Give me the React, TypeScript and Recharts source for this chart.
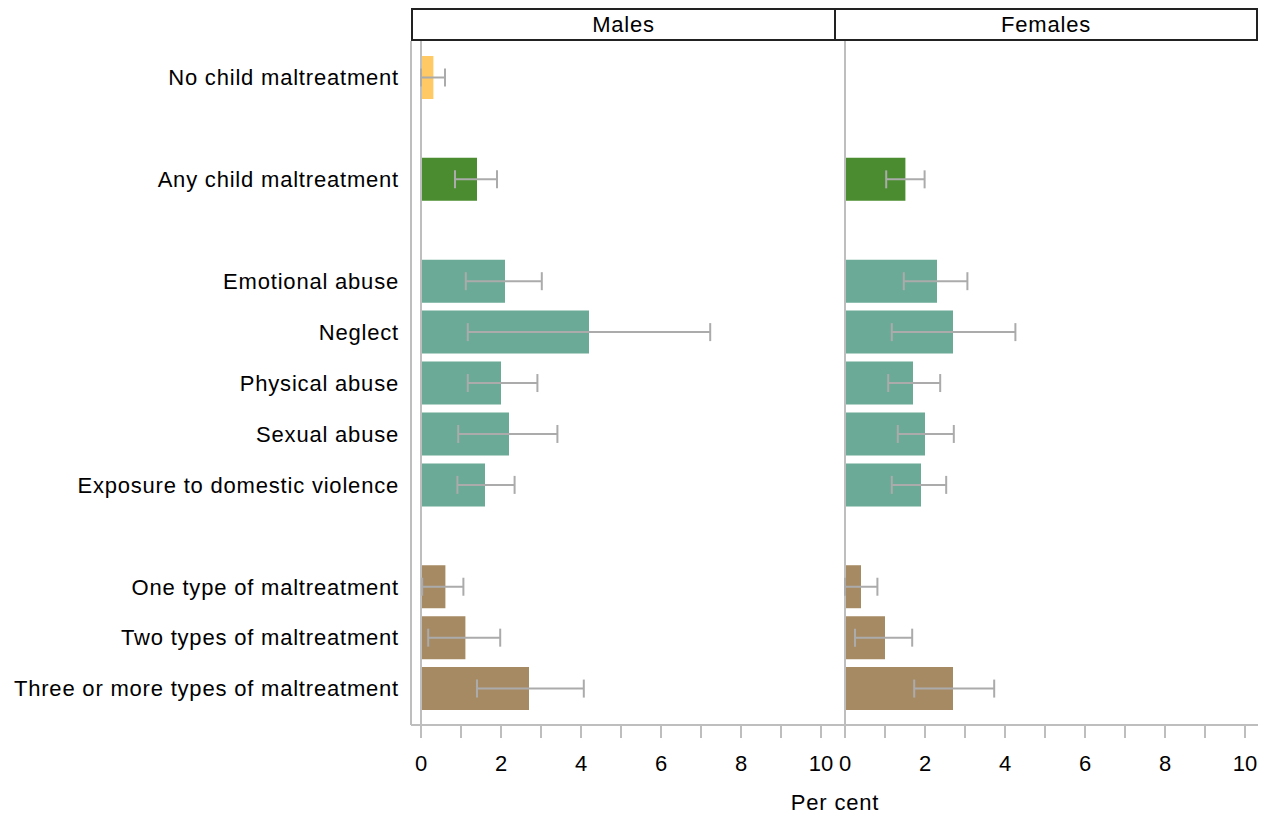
import { BarChart, Bar, XAxis, YAxis, ErrorBar, Cell, ReferenceLine } from 'recharts';

const categories = [
  'No child maltreatment',
  'Any child maltreatment',
  'Emotional abuse',
  'Neglect',
  'Physical abuse',
  'Sexual abuse',
  'Exposure to domestic violence',
  'One type of maltreatment',
  'Two types of maltreatment',
  'Three or more types of maltreatment',
];
const groups = [0, 1, 2, 2, 2, 2, 2, 3, 3, 3];
const groupColors = ['#FFC966', '#4A8C2F', '#6AAA96', '#A68A64'];

const males = [0.31, 1.4, 2.1, 4.2, 2.0, 2.2, 1.6, 0.61, 1.11, 2.7];
const malesLow = [0, 0.85, 1.12, 1.17, 1.17, 0.93, 0.91, 0.03, 0.18, 1.4];
const malesHigh = [0.6, 1.9, 3.02, 7.23, 2.91, 3.41, 2.34, 1.06, 1.98, 4.07];

const females = [0, 1.51, 2.3, 2.7, 1.7, 2.0, 1.9, 0.4, 1.0, 2.7];
const femalesLow = [0, 1.03, 1.47, 1.17, 1.08, 1.32, 1.17, 0, 0.25, 1.73];
const femalesHigh = [0.63, 1.99, 3.06, 4.26, 2.38, 2.72, 2.53, 0.81, 1.68, 3.73];

const xTicks = [0, 1, 2, 3, 4, 5, 6, 7, 8, 9, 10];

type Row = {
  key: string;
  label: string;
  color: string;
  m: number | null;
  mErr: number[] | null;
  f: number | null;
  fErr: number[] | null;
};

const rows: Row[] = [];
categories.forEach((label, i) => {
  if (i > 0 && groups[i] !== groups[i - 1]) {
    rows.push({ key: 'gap' + i, label: '', color: '#fff', m: null, mErr: null, f: null, fErr: null });
  }
  rows.push({
    key: 'r' + i,
    label,
    color: groupColors[groups[i]],
    m: males[i],
    mErr: [males[i] - malesLow[i], malesHigh[i] - males[i]],
    f: females[i],
    fErr: [females[i] - femalesLow[i], femalesHigh[i] - females[i]],
  });
});

const labelOf = (k: string) => rows.find((r) => r.key === k)?.label ?? '';

const font = '"Liberation Sans", Arial, sans-serif';
const grey = '#BEBEBE';
const errGrey = '#ABABAB';

function Panel({ side }: { side: 'm' | 'f' }) {
  const isM = side === 'm';
  return (
    <BarChart
      width={isM ? 835 : 439}
      height={820}
      data={rows}
      layout='vertical'
      margin={{ top: 41, right: isM ? 0 : 16, bottom: 0, left: 0 }}
      barCategoryGap={0}
    >
      <XAxis
        type='number'
        domain={isM ? [-0.25, 10.35] : [-0.25, 10.325]}
        ticks={xTicks}
        allowDataOverflow
        tickFormatter={(v: number) => (v % 2 === 0 ? String(v) : '')}
        height={95}
        tickSize={13}
        tickMargin={17}
        axisLine={{ stroke: grey, strokeWidth: 2 }}
        tickLine={{ stroke: grey, strokeWidth: 2 }}
        tick={{ fill: '#000', fontSize: 22, fontFamily: font }}
      />
      <YAxis
        type='category'
        dataKey='key'
        width={isM ? 411 : 0}
        hide={!isM}
        padding={{ top: 11, bottom: 11 }}
        tickFormatter={labelOf}
        tickSize={0}
        tickMargin={12}
        axisLine={{ stroke: grey, strokeWidth: 2 }}
        tick={{ fill: '#000', fontSize: 22, fontFamily: font, letterSpacing: 0.8 }}
        interval={0}
      />
      <ReferenceLine x={0} stroke={grey} strokeWidth={2} />
      <Bar dataKey={side} barSize={43} isAnimationActive={false}>
        {rows.map((r) => (
          <Cell key={r.key} fill={r.color} />
        ))}
        <ErrorBar
          dataKey={isM ? 'mErr' : 'fErr'}
          direction='x'
          width={9}
          stroke={errGrey}
          strokeWidth={2}
          isAnimationActive={false}
        />
      </Bar>
    </BarChart>
  );
}

const headerStyle = (left: number, width: number): React.CSSProperties => ({
  position: 'absolute',
  left,
  top: 8,
  width,
  height: 33,
  boxSizing: 'border-box',
  border: '2px solid #222',
  textAlign: 'center',
  lineHeight: '30px',
  fontSize: 22,
  letterSpacing: 0.8,
  fontFamily: font,
  color: '#000',
  background: '#fff',
});

export default function App() {
  return (
    <div style={{ position: 'absolute', left: 0, top: 0, width: 1274, height: 820, background: '#fff', fontFamily: font }}>
      <div style={{ position: 'absolute', left: 0, top: 0 }}>
        <Panel side='m' />
      </div>
      <div style={{ position: 'absolute', left: 835, top: 0 }}>
        <Panel side='f' />
      </div>
      <div style={headerStyle(411, 425)}>Males</div>
      <div style={headerStyle(834, 424)}>Females</div>
      <div
        style={{
          position: 'absolute',
          left: 735,
          top: 790,
          width: 200,
          textAlign: 'center',
          fontSize: 22,
          letterSpacing: 0.8,
          lineHeight: '26px',
          color: '#000',
        }}
      >
        Per cent
      </div>
    </div>
  );
}
